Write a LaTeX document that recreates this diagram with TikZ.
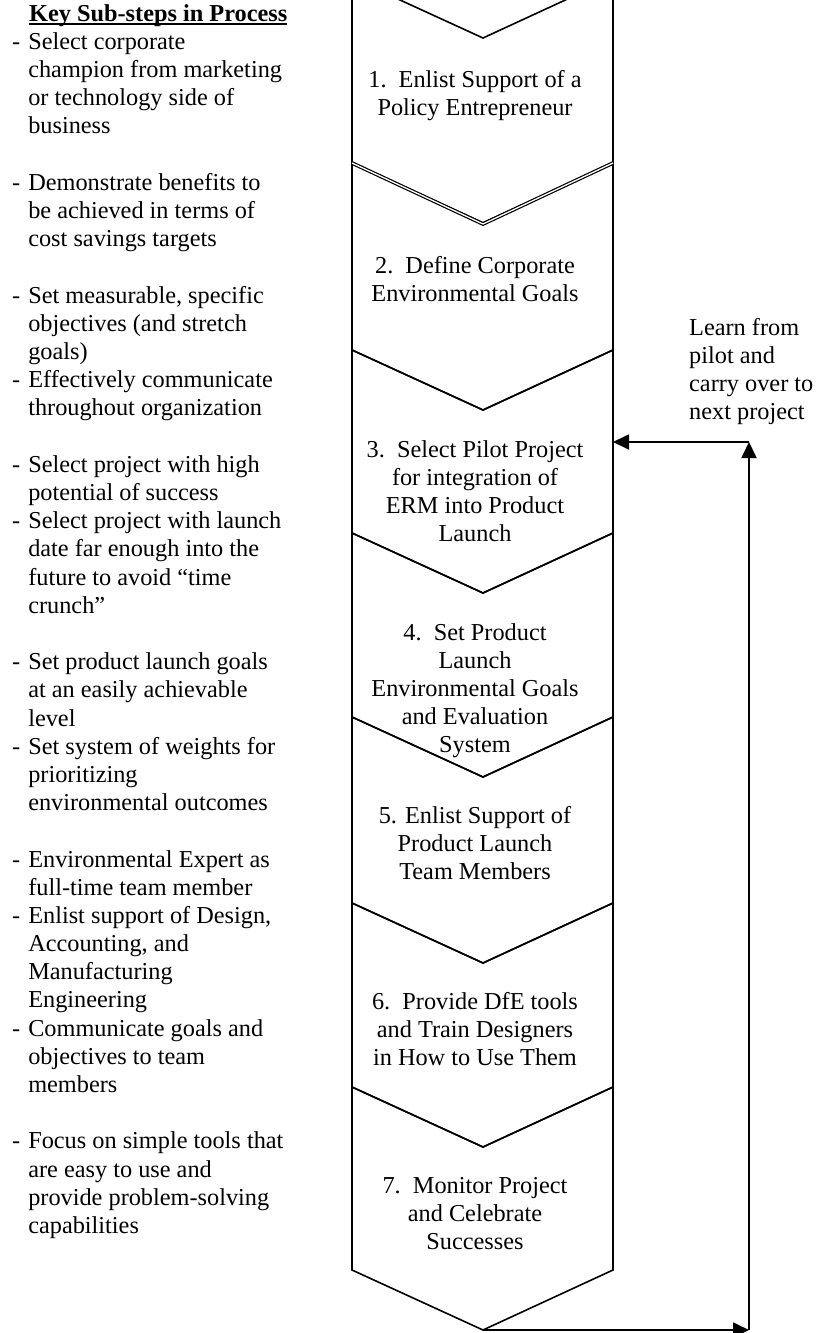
\documentclass[tikz,border=0pt]{standalone}
\usepackage{fontspec}
\setmainfont{Liberation Serif}
\usetikzlibrary{arrows.meta}
\begin{document}
\begin{tikzpicture}[x=1pt,y=-1pt,
  chev/.style={line width=1.6pt, line join=miter},
  dblchev/.style={double, double distance=1.3pt, line width=1.2pt},
  fb/.style={line width=1.8pt, -{Triangle[length=16pt,width=15pt]}},
  txt/.style={inner sep=0pt, font=\fontsize{24.3}{28}\selectfont},
  steptext/.style={txt, anchor=base},
  listtext/.style={inner sep=0pt, anchor=base west, font=\fontsize{24.3}{28.2}\selectfont}]
\useasboundingbox (0,0) rectangle (817,1333);
\clip (0,0) rectangle (817,1333);

% chevrons
\foreach \t/\b in {-22/163,163/350,350/533,533/717,717/903,903/1087,1087/1270}{
  \draw[chev] (352,\t) -- (483,\t+60) -- (613,\t) -- (613,\b) -- (483,\b+60) -- (352,\b) -- cycle;
}
\draw[dblchev] (352,163) -- (483,224) -- (613,163);

% step texts
\node[steptext] (s1) at (475,87) {\begin{tabular}[t]{@{}c@{}}1.\ \ Enlist Support of a\\Policy Entrepreneur\end{tabular}};
\node[steptext] (s2) at (475,273) {\begin{tabular}[t]{@{}c@{}}2.\ \ Define Corporate\\Environmental Goals\end{tabular}};
\node[steptext] (s3) at (475,457) {\begin{tabular}[t]{@{}c@{}}3.\ \ Select Pilot Project\\for integration of\\ERM into Product\\Launch\end{tabular}};
\node[steptext] (s4) at (475,640) {\begin{tabular}[t]{@{}c@{}}4.\ \ Set Product\\Launch\\Environmental Goals\\and Evaluation\\System\end{tabular}};
\node[steptext] (s5) at (475,823) {\begin{tabular}[t]{@{}c@{}}5. Enlist Support of\\Product Launch\\Team Members\end{tabular}};
\node[steptext] (s6) at (475,1009) {\begin{tabular}[t]{@{}c@{}}6.\ \ Provide DfE tools\\and Train Designers\\in How to Use Them\end{tabular}};
\node[steptext] (s7) at (475,1193) {\begin{tabular}[t]{@{}c@{}}7.\ \ Monitor Project\\and Celebrate\\Successes\end{tabular}};

% feedback label
\node[txt, anchor=base west] (learn) at (689,335) {\begin{tabular}[t]{@{}l@{}}Learn from\\pilot and\\carry over to\\next project\end{tabular}};

% feedback loop
\coordinate (tip7) at (483,1330);
\coordinate (fbR) at (749,1330);
\coordinate (fbT) at (749,442);
\coordinate (in3) at (613,442);
\draw[fb] (tip7) -- (fbR);
\draw[fb] (fbR) -- (fbT);
\draw[fb] (fbT) -- (in3);

% left column
\node[listtext, font=\fontsize{24.3}{28.2}\selectfont\bfseries] (head) at (29,21) {Key Sub-steps in Process};
\draw[line width=1.2pt] ([yshift=-3pt]head.base west) -- ([yshift=-3pt]head.base east);
\node[listtext] (subs) at (12,49.2) {\begin{tabular}[t]{@{}l@{\hspace{8pt}}l@{}}
- & Select corporate\\
  & champion from marketing\\
  & or technology side of\\
  & business\\
  & \\
- & Demonstrate benefits to\\
  & be achieved in terms of\\
  & cost savings targets\\
  & \\
- & Set measurable, specific\\
  & objectives (and stretch\\
  & goals)\\
- & Effectively communicate\\
  & throughout organization\\
  & \\
- & Select project with high\\
  & potential of success\\
- & Select project with launch\\
  & date far enough into the\\
  & future to avoid “time\\
  & crunch”\\
  & \\
- & Set product launch goals\\
  & at an easily achievable\\
  & level\\
- & Set system of weights for\\
  & prioritizing\\
  & environmental outcomes\\
  & \\
- & Environmental Expert as\\
  & full-time team member\\
- & Enlist support of Design,\\
  & Accounting, and\\
  & Manufacturing\\
  & Engineering\\
- & Communicate goals and\\
  & objectives to team\\
  & members\\
  & \\
- & Focus on simple tools that\\
  & are easy to use and\\
  & provide problem-solving\\
  & capabilities
\end{tabular}};
\end{tikzpicture}
\end{document}
